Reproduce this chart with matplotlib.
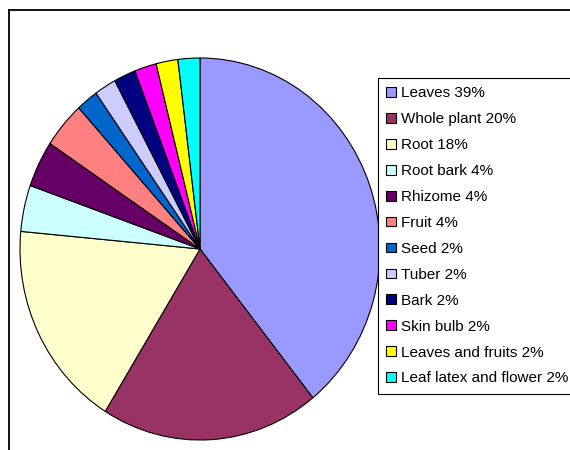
import matplotlib
matplotlib.use("Agg")
import matplotlib.pyplot as plt
from matplotlib.lines import Line2D

plt.rcParams["font.family"] = ["Liberation Sans", "DejaVu Sans"]

# plant parts used (counts out of 51 reports)
parts = ["Leaves", "Whole plant", "Root", "Root bark", "Rhizome", "Fruit",
         "Seed", "Tuber", "Bark", "Skin bulb", "Leaves and fruits",
         "Leaf latex and flower"]
counts = [20, 10, 9, 2, 2, 2, 1, 1, 1, 1, 1, 1]
pct_labels = ["39%", "20%", "18%", "4%", "4%", "4%", "2%", "2%", "2%", "2%", "2%", "2%"]
colors = ["#9999FF", "#993366", "#FFFFCC", "#CCFFFF", "#660066", "#FF8080",
          "#0066CC", "#CCCCFF", "#000080", "#FF00FF", "#FFFF00", "#00FFFF"]

fig = plt.figure(figsize=(5.7, 4.5), dpi=100)
ax = fig.add_axes([20 / 570, 10 / 450, 360 / 570, 382 / 450])

wedges, _ = ax.pie(counts, colors=colors, startangle=90, counterclock=False,
                   wedgeprops=dict(edgecolor="black", linewidth=0.8))
ax.set_aspect("auto")
ax.set_xlim(-1, 1)
ax.set_ylim(-1, 1)
ax.axis("off")

labels = [p + " " + s for p, s in zip(parts, pct_labels)]
leg = fig.legend(wedges, labels, loc="upper left",
                 bbox_to_anchor=(378 / 570, 1 - 78 / 450),
                 bbox_transform=fig.transFigure, borderaxespad=0,
                 fontsize=11, handlelength=0.6, handleheight=0.6,
                 handletextpad=0.35, labelspacing=0.78, borderpad=0.55,
                 fancybox=False, framealpha=1, edgecolor="black")
leg.get_frame().set_linewidth(0.8)
for h in leg.legend_handles:
    h.set_linewidth(0.8)

# chart area border (cut off at right and bottom)
fig.add_artist(Line2D([9 / 570, 1.0], [1 - 10 / 450, 1 - 10 / 450],
                      color="black", linewidth=1.3, transform=fig.transFigure))
fig.add_artist(Line2D([9 / 570, 9 / 570], [0, 1 - 10 / 450],
                      color="black", linewidth=1.3, transform=fig.transFigure))

fig.savefig("out.png", dpi=100)
